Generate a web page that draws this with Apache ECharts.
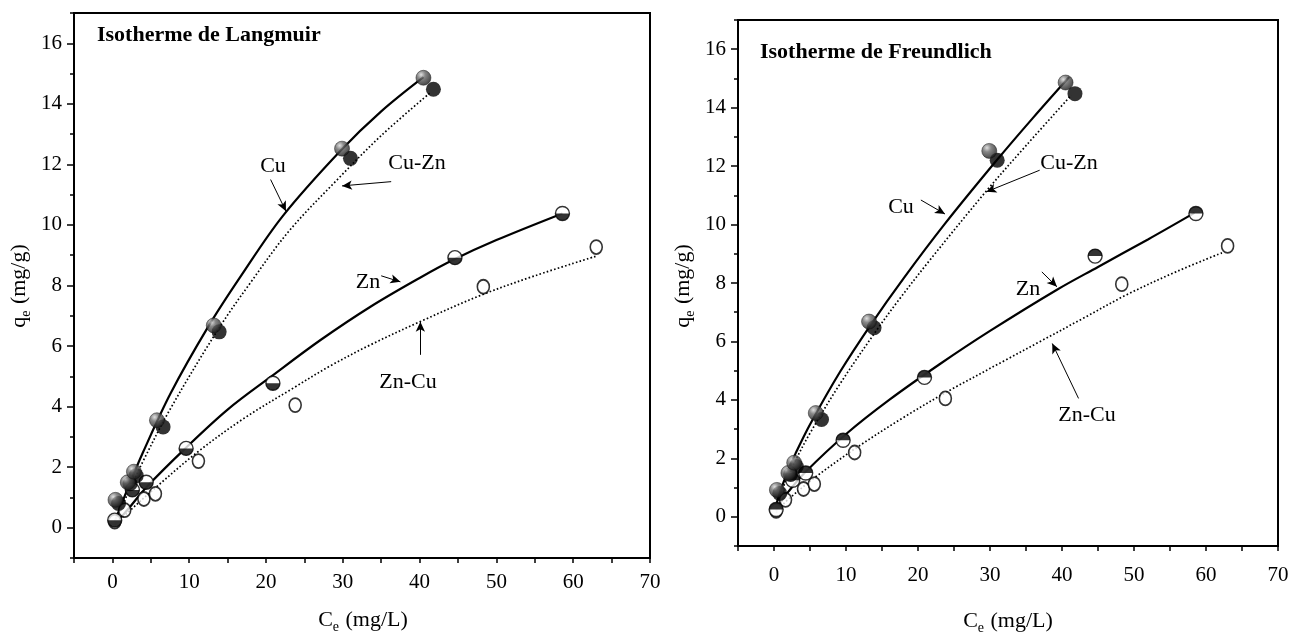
<!DOCTYPE html>
<html>
<head>
<meta charset="utf-8">
<script src="https://cdn.jsdelivr.net/npm/echarts@6/dist/echarts.min.js"></script>
<style>
html,body{margin:0;padding:0;background:#fff;}
#chart{width:1304px;height:635px;}
</style>
</head>
<body>
<div id="chart"></div>
<script>
// ---------- tick labels ----------
const xTickVals = [-5,0,5,10,15,20,25,30,35,40,45,50,55,60,65,70];
const xLabelVals = [0,10,20,30,40,50,60,70];
const yLabelVals = [0,2,4,6,8,10,12,14,16];
const yMinorVals = [-1,1,3,5,7,9,11,13,15,17];

// ---------- experimental points (Ce, qe) ----------
const cuPts   = [[0.4,0.92],[2.0,1.5],[2.8,1.85],[5.8,3.55],[13.2,6.68],[29.9,12.52],[40.5,14.86]];
const cuZnPts = [[0.8,0.8],[2.3,1.45],[3.1,1.72],[6.6,3.33],[13.9,6.47],[31.0,12.2],[41.8,14.48]];
const znPts   = [[0.3,0.25],[2.6,1.25],[4.4,1.5],[9.6,2.62],[20.9,4.77],[44.6,8.92],[58.6,10.38]];
const znCuPts = [[0.3,0.2],[1.6,0.58],[4.1,0.95],[5.6,1.12],[11.2,2.2],[23.8,4.05],[48.3,7.96],[63.0,9.27]];

// ---------- model curves ----------
const cuLangmuir   = [[0.3,0.2],[2,1.3],[4,2.5],[7.6,4.45],[12.5,6.65],[16.7,8.3],[22.2,10.3],[29.7,12.45],[35,13.75],[40.5,14.88]];
const cuZnLangmuir = [[0.3,0.18],[2,1.13],[4,2.2],[7.6,3.95],[13.9,6.6],[18,8.1],[23,9.8],[29.3,11.5],[35,12.95],[41.3,14.35]];
const znLangmuir   = [[0.3,0.1],[2,0.6],[4.4,1.33],[9.5,2.62],[15,3.9],[20.6,4.98],[27.1,6.2],[33.6,7.3],[40,8.25],[44.4,8.85],[50,9.5],[58.6,10.38]];
const znCuLangmuir = [[0.3,0.08],[2,0.5],[5.6,1.32],[11.1,2.5],[17,3.59],[23.6,4.62],[28.4,5.35],[33.6,6.04],[40.1,6.81],[48,7.68],[55,8.32],[63,8.97]];

const cuFreundlich   = [[0.3,0.39],[1,0.96],[2,1.6],[3,2.17],[5,3.16],[9.2,4.97],[13.6,6.63],[18,8.16],[23.75,10.03],[30.9,12.19],[36,13.66],[41,15.05]];
const cuZnFreundlich = [[0.3,0.33],[1,0.84],[2,1.42],[3,1.94],[5,2.86],[9.2,4.56],[14.5,6.47],[17.3,7.41],[21.7,8.8],[29.5,11.15],[35,12.7],[41.3,14.43]];
const znFreundlich   = [[0.3,0.21],[1,0.52],[2,0.86],[4.4,1.54],[10.1,2.85],[16,4.0],[23,5.22],[30,6.36],[39.3,7.77],[45,8.55],[52,9.5],[58.4,10.4]];
const znCuFreundlich = [[0.3,0.14],[1,0.36],[2,0.6],[5.6,1.33],[11.5,2.37],[18,3.4],[24.2,4.3],[32.3,5.38],[36.9,5.99],[43,6.8],[49,7.6],[56,8.4],[62.4,9.05]];

// ---------- annotation arrows (data units: from -> to) ----------
const langmuirArrows = [[20.6,11.5,22.6,10.45],[36.3,11.43,29.9,11.29],[35.0,8.32,37.5,8.12],[40.1,5.71,40.1,6.80]];
const freundlichArrows = [[20.4,10.84,23.75,10.36],[36.9,11.86,29.5,11.12],[37.2,8.38,39.3,7.87],[42.3,4.05,38.65,5.93]];

const FONT = '"Liberation Serif", "Times New Roman", serif';

function xAx(g, margin){
  return {gridIndex:g, type:'value', min:-5, max:70,
    axisLine:{onZero:false, lineStyle:{color:'#000', width:2}},
    axisTick:{customValues:xTickVals, length:5, lineStyle:{color:'#000', width:1.5}},
    axisLabel:{customValues:xLabelVals, color:'#000', fontFamily:FONT, fontSize:21, margin:margin},
    splitLine:{show:false}};
}
function yAx(g){
  return {gridIndex:g, type:'value', min:-1, max:17, position:'left',
    axisLine:{onZero:false, lineStyle:{color:'#000', width:2}},
    axisTick:{customValues:yLabelVals, length:7, lineStyle:{color:'#000', width:1.5}},
    axisLabel:{customValues:yLabelVals, color:'#000', fontFamily:FONT, fontSize:21, margin:12},
    splitLine:{show:false}};
}
function yMinor(g){
  return {gridIndex:g, type:'value', min:-1, max:17, position:'left',
    axisLine:{show:false, onZero:false},
    axisTick:{customValues:yMinorVals, length:4, lineStyle:{color:'#000', width:1.5}},
    axisLabel:{show:false}, splitLine:{show:false}};
}

const sphere = {type:'radial', x:0.35, y:0.3, r:0.75,
  colorStops:[{offset:0,color:'#d8d8d8'},{offset:0.35,color:'#6a6a6a'},{offset:1,color:'#111'}]};

function curve(name, g, data, dotted, arrow){
  const s = {name:name, type:'line', xAxisIndex:g, yAxisIndex:g*2, data:data,
    showSymbol:false, smooth:0.35, silent:true, z:2,
    lineStyle:{color:'#000', width:dotted?1.7:2.2, type:dotted?[1.6,2.2]:'solid'}};
  if (arrow){
    s.markLine = {silent:true, symbol:['none','arrow'], symbolSize:[7,10],
      lineStyle:{color:'#000', width:1, type:'solid'}, label:{show:false},
      data:[[{coord:[arrow[0],arrow[1]]},{coord:[arrow[2],arrow[3]]}]]};
  }
  return s;
}
function pts(g, data, opts){
  return Object.assign({type:'scatter', xAxisIndex:g, yAxisIndex:g*2, data:data, silent:true, z:5}, opts);
}

const halfBottom = 'path://M0,0 A10,10 0 0 0 20,0 Z';
const halfTop = 'path://M0,10 A10,10 0 0 1 20,10 Z';

function panel(g, curves, arrows, znTopBlack){
  return [
    curve('Cu', g, curves[0], false, arrows[0]),
    curve('Cu-Zn', g, curves[1], true, arrows[1]),
    curve('Zn', g, curves[2], false, arrows[2]),
    curve('Zn-Cu', g, curves[3], true, arrows[3]),
    pts(g, znCuPts, {symbol:'circle', symbolSize:[12,14], itemStyle:{color:'#fff', borderColor:'#000', borderWidth:1.7}}),
    pts(g, znPts, {symbol:'circle', symbolSize:14, itemStyle:{color:'#fff', borderColor:'#000', borderWidth:1.4}}),
    pts(g, znPts, {symbol: znTopBlack?halfTop:halfBottom, symbolSize:[14,7], symbolOffset:[0, znTopBlack?'-50%':'50%'], itemStyle:{color:'#000'}, z:6}),
    pts(g, cuZnPts, {symbol:'circle', symbolSize:15, itemStyle:{color:'#000'}}),
    pts(g, cuPts, {symbol:'circle', symbolSize:15, itemStyle:{color:sphere, borderColor:'#111', borderWidth:0.6}, z:7})
  ];
}

function txt(x, y, text, size, bold){
  return {type:'text', x:x, y:y, z:100, silent:true,
    style:{text:text, fill:'#000', font:(bold?'bold ':'')+size+'px '+FONT, textAlign:'center', textVerticalAlign:'middle'}};
}
function sub(x, y, main, rest, rot){
  return {type:'text', x:x, y:y, rotation:rot||0, z:100, silent:true,
    style:{text:'{a|'+main+'}{s|e}{a|'+rest+'}', fill:'#000', textAlign:'center', textVerticalAlign:'middle',
      rich:{a:{fontFamily:FONT, fontSize:22, lineHeight:28, fill:'#000'},
            s:{fontFamily:FONT, fontSize:14, lineHeight:28, verticalAlign:'bottom', padding:[0,1,0,0], fill:'#000'}}}};
}

const option = {
  animation:false,
  backgroundColor:'#fff',
  grid:[
    {left:74, right:654, top:13, bottom:77, show:true, borderColor:'#000', borderWidth:2},
    {left:738, right:26, top:20, bottom:89, show:true, borderColor:'#000', borderWidth:2}
  ],
  xAxis:[xAx(0,14), xAx(1,19)],
  yAxis:[yAx(0), yMinor(0), yAx(1), yMinor(1)],
  series:[].concat(
    panel(0, [cuLangmuir, cuZnLangmuir, znLangmuir, znCuLangmuir], langmuirArrows, false),
    panel(1, [cuFreundlich, cuZnFreundlich, znFreundlich, znCuFreundlich], freundlichArrows, true)
  ),
  graphic:[
    {type:'text', left:97, top:24, z:100, silent:true, style:{text:'Isotherme de Langmuir', fill:'#000', font:'bold 22px '+FONT}},
    {type:'text', left:760, top:41, z:100, silent:true, style:{text:'Isotherme de Freundlich', fill:'#000', font:'bold 22px '+FONT}},
    txt(273,166,'Cu',22), txt(417,163,'Cu-Zn',22), txt(368,282,'Zn',22), txt(408,382,'Zn-Cu',22),
    txt(901,207,'Cu',22), txt(1069,163,'Cu-Zn',22), txt(1028,289,'Zn',22), txt(1087,415,'Zn-Cu',22),
    sub(19,286,'q',' (mg/g)',Math.PI/2), sub(683,286,'q',' (mg/g)',Math.PI/2),
    sub(363,620,'C',' (mg/L)',0), sub(1008,621,'C',' (mg/L)',0)
  ]
};

const chart = echarts.init(document.getElementById('chart'), null, {renderer:'canvas'});
chart.setOption(option);
</script>
</body>
</html>
